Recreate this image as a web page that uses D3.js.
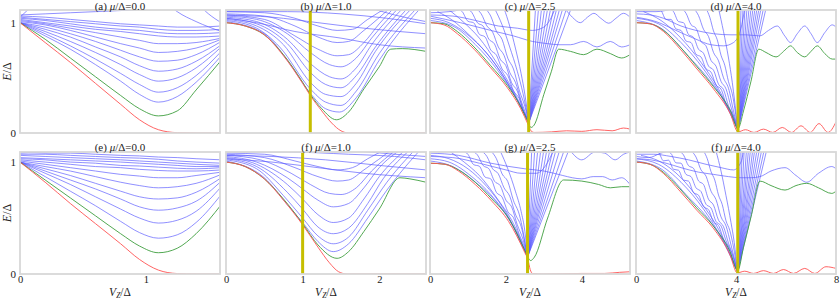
<!DOCTYPE html>
<html><head><meta charset="utf-8">
<script src="https://cdn.jsdelivr.net/npm/d3@7"></script>
<style>body{margin:0;background:#fff}svg{display:block}</style>
</head><body>
<svg id="chart" width="840" height="300"></svg>
<script>
// ---------------- DATA ----------------
const gridAE = [0,0.2,0.4,0.6,0.8,0.95,1.1,1.25,1.4,1.6];
// (a) mu=0
const redA   = [1.0,0.82,0.64,0.45,0.26,0.12,0.03,0.003,0,0];
const greenA = [1.0,0.85,0.68,0.51,0.34,0.22,0.155,0.2,0.39,0.66];
const blueA = [
 [1.0,0.88,0.76,0.62,0.47,0.35,0.28,0.33,0.46,0.70],
 [1.0,0.9,0.79,0.67,0.54,0.44,0.37,0.41,0.52,0.74],
 [1.0,0.92,0.83,0.73,0.62,0.53,0.47,0.5,0.59,0.78],
 [1.0,0.94,0.87,0.78,0.69,0.61,0.56,0.58,0.65,0.80],
 [1.0,0.96,0.9,0.83,0.75,0.69,0.65,0.66,0.71,0.83],
 [1.01,0.98,0.93,0.87,0.81,0.77,0.73,0.74,0.77,0.85],
 [1.02,0.99,0.95,0.91,0.87,0.84,0.81,0.81,0.82,0.86],
 [1.03,1.0,0.97,0.94,0.92,0.9,0.88,0.87,0.87,0.88],
 [1.04,1.02,0.99,0.96,0.94,0.93,0.91,0.9,0.9,0.91],
 [1.05,1.03,1.01,0.99,0.97,0.96,0.94,0.93,0.93,0.94],
 [1.06,1.05,1.03,1.01,0.99,0.98,0.97,0.96,0.96,0.97],
 [1.07,1.08,1.09,1.1,1.11,1.12,1.13,1.14,1.14,1.15],
 [1.05,1.25,1.4,1.5,1.5,1.5,1.5,1.5,1.5,1.5],
 [1.5,1.5,1.5,1.5,1.5,1.5,1.25,1.1,1.01,0.92],
 [1.5,1.5,1.5,1.5,1.5,1.5,1.5,1.5,1.2,1.0]
];
// (e) mu=0
const redE   = [1.0,0.82,0.63,0.45,0.27,0.13,0.035,0.004,0,0];
const greenE = [1.0,0.84,0.68,0.52,0.36,0.25,0.19,0.23,0.36,0.62];
const blueE = [
 [1.0,0.87,0.74,0.61,0.47,0.37,0.32,0.35,0.46,0.71],
 [1.0,0.9,0.8,0.69,0.58,0.5,0.455,0.48,0.56,0.78],
 [1.0,0.92,0.84,0.76,0.67,0.6,0.57,0.59,0.65,0.83],
 [1.0,0.94,0.88,0.81,0.74,0.69,0.67,0.68,0.73,0.86],
 [1.0,0.96,0.92,0.87,0.82,0.79,0.77,0.78,0.81,0.89],
 [1.01,0.98,0.95,0.92,0.89,0.875,0.86,0.86,0.88,0.91],
 [1.02,1.0,0.98,0.96,0.95,0.935,0.925,0.92,0.92,0.93],
 [1.03,1.02,1.0,0.99,0.97,0.965,0.955,0.945,0.94,0.95],
 [1.04,1.03,1.02,1.01,1.0,0.99,0.98,0.97,0.96,0.96],
 [1.06,1.05,1.04,1.03,1.02,1.01,1.0,0.99,0.98,0.97],
 [1.07,1.07,1.06,1.05,1.04,1.035,1.025,1.01,1.0,0.99],
 [1.09,1.08,1.08,1.07,1.06,1.055,1.045,1.04,1.03,1.02],
 [1.08,1.09,1.1,1.1,1.11,1.11,1.12,1.12,1.12,1.12]
];
// (b) mu=1
const yellowB = 1.1;
const redB = [[0,1.0],[0.25,0.97],[0.5,0.89],[0.75,0.7],[1.0,0.45],[1.1,0.34],[1.25,0.2],[1.38,0.09],[1.5,0.02],[1.6,0],[2.61,0]];
const greenB = [[0,1.0],[0.25,0.97],[0.5,0.89],[0.75,0.71],[1.0,0.46],[1.1,0.35],[1.25,0.22],[1.44,0.12],[1.6,0.19],[1.8,0.4],[2.0,0.6],[2.15,0.76],[2.3,0.765],[2.61,0.74]];
const blueB = [
 [[0,1.01],[0.5,0.9],[0.8,0.66],[1.1,0.36],[1.3,0.22],[1.48,0.19],[1.7,0.32],[2.0,0.66],[2.15,0.81],[2.55,1.14]],
 [[0,1.02],[0.4,0.95],[0.7,0.78],[1.1,0.4],[1.3,0.28],[1.5,0.25],[1.7,0.38],[2.0,0.72],[2.5,1.14]],
 [[0,1.03],[0.4,0.97],[0.75,0.8],[1.1,0.46],[1.3,0.35],[1.5,0.33],[1.7,0.45],[1.95,0.74],[2.44,1.14]],
 [[0,1.04],[0.4,0.99],[0.8,0.81],[1.1,0.55],[1.3,0.44],[1.5,0.41],[1.7,0.52],[1.95,0.78],[2.38,1.14]],
 [[0,1.05],[0.4,1.01],[0.8,0.85],[1.1,0.63],[1.35,0.51],[1.5,0.49],[1.7,0.59],[1.9,0.8],[2.32,1.14]],
 [[0,1.06],[0.4,1.03],[0.8,0.9],[1.1,0.73],[1.35,0.62],[1.5,0.6],[1.7,0.68],[1.9,0.86],[2.26,1.14]],
 [[0,1.07],[0.5,1.03],[0.9,0.88],[1.2,0.76],[1.45,0.7],[1.6,0.71],[1.8,0.82],[2.0,0.99],[2.2,1.14]],
 [[0,1.08],[0.5,1.06],[0.9,0.97],[1.2,0.87],[1.45,0.82],[1.6,0.83],[1.8,0.93],[2.15,1.14]],
 [[0,1.1],[0.5,1.09],[0.9,1.04],[1.2,0.97],[1.45,0.93],[1.65,0.94],[1.85,1.03],[2.1,1.14]],
 [[0,1.07],[0.6,1.05],[1.2,1.0],[1.8,0.95],[2.61,0.9]],
 [[0,1.04],[0.4,1.0],[0.9,0.92],[1.5,0.86],[2.0,0.8],[2.61,0.77]],
 [[0,1.1],[0.8,1.1],[1.5,1.08],[2.1,1.04],[2.61,0.99]],
 [[1.9,1.13],[2.2,1.07],[2.61,1.01]]
];
// (f) mu=1
const yellowF = 1.0;
const redF = [[0,1.0],[0.25,0.96],[0.5,0.85],[0.75,0.66],[1.0,0.44],[1.2,0.24],[1.35,0.1],[1.47,0.02],[1.58,0],[2.61,0]];
const greenF = [[0,1.0],[0.25,0.96],[0.5,0.85],[0.75,0.67],[1.0,0.45],[1.2,0.26],[1.45,0.14],[1.6,0.2],[1.8,0.38],[2.0,0.58],[2.27,0.86],[2.4,0.85],[2.61,0.82]];
const blueF = [
 [[0,1.01],[0.5,0.86],[0.8,0.62],[1.0,0.46],[1.2,0.29],[1.4,0.2],[1.6,0.27],[1.85,0.5],[2.1,0.75],[2.27,0.9],[2.55,1.12]],
 [[0,1.02],[0.4,0.94],[0.75,0.7],[1.0,0.5],[1.2,0.34],[1.4,0.27],[1.6,0.33],[1.85,0.57],[2.1,0.82],[2.48,1.12]],
 [[0,1.03],[0.4,0.96],[0.8,0.73],[1.0,0.58],[1.2,0.42],[1.4,0.36],[1.6,0.41],[1.85,0.63],[2.05,0.85],[2.42,1.12]],
 [[0,1.04],[0.4,0.98],[0.8,0.8],[1.0,0.67],[1.2,0.53],[1.4,0.46],[1.6,0.5],[1.8,0.67],[2.0,0.87],[2.36,1.12]],
 [[0,1.05],[0.4,1.0],[0.8,0.86],[1.0,0.76],[1.2,0.66],[1.4,0.6],[1.6,0.63],[1.8,0.77],[2.0,0.95],[2.3,1.12]],
 [[0,1.06],[0.45,1.02],[0.85,0.9],[1.1,0.8],[1.35,0.72],[1.5,0.71],[1.7,0.77],[1.9,0.92],[2.24,1.12]],
 [[0,1.07],[0.5,1.04],[0.9,0.95],[1.2,0.87],[1.45,0.83],[1.6,0.84],[1.8,0.93],[2.18,1.12]],
 [[0,1.08],[0.5,1.07],[0.9,1.01],[1.2,0.96],[1.45,0.93],[1.65,0.95],[1.85,1.03],[2.1,1.12]],
 [[0,1.03],[0.6,1.0],[1.2,0.95],[1.8,0.9],[2.61,0.86]],
 [[0,1.06],[0.6,1.05],[1.3,1.02],[2.0,0.97],[2.61,0.93]],
 [[0,1.09],[0.8,1.09],[1.6,1.07],[2.2,1.05],[2.61,1.02]],
 [[1.7,1.1],[2.2,1.07],[2.61,1.05]]
];
// (c) mu=2.5
const yellowC = 2.6;
const redC = [[0,1.0],[0.37,0.98],[0.72,0.9],[1.16,0.76],[1.6,0.59],[2.04,0.41],[2.39,0.22],[2.58,0.08],[2.66,0.02],[2.75,0.005],[3.2,0.01],[3.6,0.02],[4.0,0.015],[4.4,0.03],[4.8,0.02],[5.1,0.045],[5.27,0.035]];
const greenC = [[0,1.0],[0.37,0.99],[0.72,0.92],[1.16,0.78],[1.6,0.61],[2.04,0.43],[2.39,0.24],[2.58,0.1],[2.66,0.05],[2.74,0.07],[3.0,0.35],[3.2,0.56],[3.39,0.76],[3.7,0.74],[4.05,0.71],[4.4,0.76],[4.75,0.72],[5.05,0.68],[5.27,0.71]];
const blueC = [
 [[0,1.06],[0.8,1.0],[1.6,0.93],[2.2,0.88],[2.7,0.83],[3.1,0.81],[3.4,0.8],[3.7,0.8],[4.05,0.83],[4.4,0.78],[4.75,0.83],[5.05,0.78],[5.27,0.8]],
 [[0,1.07],[0.6,1.06],[1.2,1.02],[1.8,0.97],[2.3,0.95],[2.7,0.93],[3.0,0.96],[3.2,1.05],[3.3,1.13]],
 [[0,1.09],[0.5,1.1],[1.0,1.13]],
 [[3.55,1.13],[3.75,1.05],[3.96,1.0],[4.15,1.05],[4.32,1.085],[4.5,1.04],[4.71,0.995],[4.9,1.04],[5.1,1.085],[5.27,1.05]],
 [[0,1.02],[0.6,0.97],[1.2,0.8],[1.8,0.56],[2.3,0.3],[2.6,0.1]],
 [[0,1.04],[0.5,1.0],[1.1,0.86],[1.6,0.68],[2.1,0.42],[2.6,0.1]],
 [[0.2,1.1],[0.6,1.02],[1.0,0.9],[1.5,0.72],[2.0,0.48],[2.6,0.1]],
 [[0.45,1.13],[0.9,1.0],[1.3,0.86],[1.75,0.64],[2.2,0.38],[2.6,0.1]],
 [[0.7,1.13],[0.85,1.1],[1.0,1.013],[1.15,0.999],[1.3,0.895],[1.45,0.871],[1.6,0.753],[1.75,0.706],[1.9,0.58],[2.05,0.521],[2.2,0.383],[2.35,0.313],[2.5,0.165],[2.6,0.1]],
 [[0.95,1.13],[1.1,1.094],[1.25,0.999],[1.4,0.969],[1.55,0.851],[1.7,0.807],[1.85,0.669],[2.0,0.61],[2.15,0.455],[2.3,0.38],[2.45,0.215],[2.6,0.1]],
 [[1.2,1.13],[1.35,1.08],[1.5,0.97],[1.65,0.915],[1.8,0.78],[1.95,0.705],[2.1,0.55],[2.25,0.46],[2.4,0.295],[2.6,0.1]],
 [[1.45,1.13],[1.6,1.06],[1.75,0.922],[1.9,0.848],[2.05,0.678],[2.2,0.58],[2.35,0.39],[2.5,0.24],[2.6,0.1]],
 [[1.7,1.13],[1.9,0.98],[2.1,0.78],[2.3,0.56],[2.45,0.36],[2.6,0.1]],
 [[1.95,1.13],[2.1,0.97],[2.25,0.77],[2.4,0.54],[2.5,0.35],[2.6,0.1]]
];
const vertexC = [2.6,0.09];
const riseTopsC = [2.78,2.86,2.94,3.02,3.1,3.18,3.26,3.34,3.42,3.5,3.6,3.72];
// (d) mu=4
const yellowD = 4.08;
const redD = [[0,1.0],[0.56,0.99],[1.1,0.92],[1.77,0.76],[2.44,0.58],[3.1,0.4],[3.78,0.17],[4.08,0.01],[4.38,0.03],[4.72,0.005],[5.1,0.035],[5.47,0.005],[5.85,0.05],[6.22,0.005],[6.6,0.065],[6.97,0.005],[7.32,0.085],[7.68,0.005],[8.0,0.1]];
const greenD = [[0,1.0],[0.56,0.99],[1.1,0.93],[1.77,0.78],[2.44,0.6],[3.1,0.42],[3.78,0.2],[4.08,0.04],[4.3,0.2],[4.6,0.47],[4.91,0.76],[5.2,0.73],[5.6,0.69],[5.95,0.75],[6.18,0.79],[6.45,0.73],[6.75,0.69],[7.0,0.74],[7.25,0.79],[7.55,0.72],[7.85,0.67],[8.0,0.67]];
const blueD = [
 [[0,1.08],[0.6,1.07],[1.1,1.04],[1.8,0.97],[2.4,0.93],[3.1,0.9],[3.8,0.89],[4.4,0.89],[4.95,0.88],[5.3,0.93],[5.65,0.97],[5.95,0.88],[6.18,0.82],[6.45,0.9],[6.75,0.97],[7.0,0.9],[7.25,0.82],[7.55,0.91],[7.85,0.98],[8.0,0.96]],
 [[0,1.1],[0.8,1.1],[1.5,1.13]],
 [[0,1.05],[0.8,1.01],[1.6,0.93],[2.4,0.85],[3.0,0.8],[3.5,0.79],[3.9,0.82],[4.2,0.95],[4.35,1.13]],
 [[0,1.02],[1.0,0.95],[2.0,0.72],[3.0,0.46],[3.6,0.26],[4.07,0.03]],
 [[0,1.04],[0.9,0.99],[1.8,0.82],[2.7,0.58],[3.4,0.34],[4.07,0.03]],
 [[0.3,1.1],[1.0,1.02],[1.8,0.86],[2.6,0.64],[3.3,0.4],[4.07,0.03]],
 [[0.8,1.13],[1.0,1.11],[1.2,1.03],[1.4,1.03],[1.6,0.943],[1.8,0.93],[2.0,0.834],[2.2,0.82],[2.4,0.714],[2.6,0.689],[2.8,0.583],[3.0,0.552],[3.2,0.435],[3.4,0.398],[3.6,0.266],[3.8,0.19],[4.07,0.03]],
 [[1.3,1.13],[1.5,1.1],[1.7,1.01],[1.9,1.0],[2.1,0.893],[2.3,0.867],[2.5,0.76],[2.7,0.723],[2.9,0.607],[3.1,0.57],[3.3,0.442],[3.5,0.394],[3.7,0.246],[3.9,0.15],[4.07,0.03]],
 [[1.8,1.13],[2.0,1.086],[2.2,0.982],[2.4,0.95],[2.6,0.83],[2.8,0.79],[3.0,0.658],[3.2,0.606],[3.4,0.468],[3.6,0.4],[3.8,0.235],[4.07,0.03]],
 [[2.3,1.13],[2.5,1.065],[2.7,0.94],[2.9,0.875],[3.1,0.73],[3.3,0.655],[3.5,0.5],[3.7,0.405],[3.9,0.2],[4.07,0.03]],
 [[2.8,1.13],[2.95,1.05],[3.1,0.925],[3.25,0.845],[3.4,0.705],[3.55,0.615],[3.7,0.465],[3.85,0.355],[4.07,0.03]],
 [[3.3,1.13],[3.5,0.92],[3.7,0.68],[3.85,0.46],[3.95,0.28],[4.07,0.03]]
];
const vertexD = [4.08,0.03];
const riseTopsD = [4.2,4.28,4.36,4.44,4.52,4.6,4.68,4.76,4.84,4.92,5.0,5.1,5.2];
// (g) mu=2.5
const yellowG = 2.57;
const redG = [[0,0.99],[0.4,0.98],[0.75,0.92],[1.19,0.8],[1.63,0.65],[2.07,0.47],[2.5,0.19],[2.58,0.13],[2.64,0.04],[2.7,0.005],[3.0,0],[4.0,0.005],[4.6,0.005],[5.0,0.015],[5.27,0.02]];
const greenG = [[0,0.99],[0.4,0.98],[0.75,0.93],[1.19,0.82],[1.63,0.67],[2.07,0.5],[2.5,0.21],[2.58,0.15],[2.65,0.12],[2.75,0.15],[3.1,0.5],[3.52,0.84],[4.0,0.83],[4.44,0.8],[4.75,0.77],[5.05,0.78],[5.27,0.78]];
const blueG = [
 [[0,1.08],[0.75,1.06],[1.6,0.99],[2.5,0.94],[3.0,0.92],[3.5,0.88],[3.75,0.86],[4.0,0.85],[4.3,0.87],[4.55,0.87],[4.8,0.84],[5.05,0.86],[5.27,0.8]],
 [[0,1.05],[0.6,1.04],[1.3,0.99],[2.0,0.93],[2.4,0.9],[2.8,0.9],[3.05,0.97],[3.25,1.1]],
 [[3.7,1.1],[4.0,1.02],[4.35,1.09],[4.6,1.08],[4.88,1.02],[5.1,1.07],[5.27,1.09]],
 [[0,1.01],[0.6,0.96],[1.2,0.82],[1.8,0.62],[2.2,0.42],[2.57,0.15]],
 [[0,1.03],[0.5,1.0],[1.1,0.87],[1.6,0.71],[2.1,0.48],[2.57,0.15]],
 [[0,1.06],[0.5,1.03],[1.0,0.94],[1.5,0.78],[2.0,0.55],[2.57,0.15]],
 [[0.5,1.1],[0.9,1.0],[1.3,0.88],[1.8,0.66],[2.2,0.45],[2.57,0.15]],
 [[0.85,1.1],[1.0,1.069],[1.15,0.977],[1.3,0.963],[1.45,0.866],[1.6,0.85],[1.75,0.729],[1.9,0.687],[2.05,0.557],[2.2,0.503],[2.35,0.355],[2.5,0.23],[2.57,0.15]],
 [[1.1,1.1],[1.25,1.064],[1.4,0.969],[1.55,0.941],[1.7,0.829],[1.85,0.79],[2.0,0.66],[2.15,0.6],[2.3,0.44],[2.45,0.31],[2.57,0.15]],
 [[1.35,1.1],[1.5,1.05],[1.65,0.94],[1.8,0.895],[1.95,0.77],[2.1,0.696],[2.25,0.535],[2.4,0.425],[2.57,0.15]],
 [[1.6,1.1],[1.75,1.03],[1.9,0.894],[2.05,0.826],[2.2,0.655],[2.35,0.535],[2.57,0.15]],
 [[1.85,1.1],[2.05,0.94],[2.25,0.74],[2.4,0.56],[2.5,0.38],[2.57,0.15]]
];
const vertexG = [2.57,0.15];
const riseTopsG = [2.68,2.76,2.84,2.92,3.0,3.08,3.16,3.24,3.32,3.42,3.54,3.66];
// (h) mu=4
const yellowH = 4.07;
const redH = [[0,1.0],[0.56,0.98],[1.09,0.9],[1.76,0.74],[2.43,0.57],[3.09,0.41],[3.76,0.17],[4.05,0.01],[4.35,0.025],[4.7,0.005],[5.1,0.03],[5.5,0.005],[5.9,0.04],[6.3,0.005],[6.75,0.05],[7.15,0.005],[7.6,0.065],[8.0,0.05]];
const greenH = [[0,1.0],[0.56,0.98],[1.09,0.91],[1.76,0.76],[2.43,0.59],[3.09,0.43],[3.76,0.2],[4.07,0.03],[4.3,0.24],[4.6,0.51],[4.96,0.83],[5.4,0.79],[5.96,0.75],[6.4,0.79],[6.83,0.81],[7.3,0.77],[7.83,0.72],[8.0,0.74]];
const blueH = [
 [[0,1.03],[0.6,1.02],[1.2,0.99],[1.8,0.95],[2.5,0.91],[3.1,0.89],[3.7,0.87],[4.2,0.86],[4.6,0.86],[4.96,0.87],[5.4,0.92],[5.96,0.95],[6.4,0.88],[6.83,0.82],[7.3,0.9],[7.83,0.96],[8.0,0.94]],
 [[0,1.07],[0.7,1.07],[1.4,1.05],[2.1,1.02],[2.8,0.98],[3.4,0.95],[3.9,0.93],[4.2,1.0],[4.3,1.1]],
 [[0,1.05],[0.5,1.04],[1.0,1.08],[1.3,1.1]],
 [[0,1.01],[1.0,0.94],[2.0,0.71],[3.0,0.46],[3.6,0.25],[4.06,0.02]],
 [[0,1.03],[0.9,0.98],[1.8,0.82],[2.7,0.58],[3.4,0.33],[4.06,0.02]],
 [[0.2,1.06],[1.0,1.0],[1.8,0.86],[2.6,0.64],[3.3,0.4],[4.06,0.02]],
 [[0.7,1.1],[0.9,1.086],[1.1,1.011],[1.3,1.017],[1.5,0.936],[1.7,0.927],[1.9,0.839],[2.1,0.83],[2.3,0.727],[2.5,0.704],[2.7,0.601],[2.9,0.575],[3.1,0.464],[3.3,0.433],[3.5,0.312],[3.7,0.24],[3.9,0.1],[4.06,0.02]],
 [[1.2,1.1],[1.4,1.077],[1.6,0.993],[1.8,0.99],[2.0,0.89],[2.2,0.87],[2.4,0.77],[2.6,0.737],[2.8,0.623],[3.0,0.59],[3.2,0.47],[3.4,0.43],[3.6,0.298],[3.8,0.2],[4.06,0.02]],
 [[1.7,1.1],[1.9,1.064],[2.1,0.968],[2.3,0.944],[2.5,0.832],[2.7,0.8],[2.9,0.668],[3.1,0.616],[3.3,0.481],[3.5,0.423],[3.7,0.275],[3.9,0.15],[4.06,0.02]],
 [[2.2,1.1],[2.4,1.045],[2.6,0.93],[2.8,0.875],[3.0,0.74],[3.2,0.665],[3.4,0.51],[3.6,0.43],[3.8,0.26],[4.06,0.02]],
 [[2.7,1.1],[2.85,1.03],[3.0,0.915],[3.15,0.84],[3.3,0.705],[3.45,0.62],[3.6,0.475],[3.75,0.39],[3.9,0.24],[4.06,0.02]],
 [[3.2,1.1],[3.4,0.92],[3.6,0.7],[3.8,0.46],[3.93,0.28],[4.06,0.02]]
];
const vertexH = [4.07,0.02];
const riseTopsH = [4.17,4.25,4.33,4.42,4.5,4.58,4.67,4.75,4.84,4.93,5.03,5.13,5.23];

const xTicksRow2 = [[0,1],[0,1,2],[0,2,4],[0,4,8]];
const yTicks = [0,1];

// ---------------- BUILD ----------------
const zip = (xs, ys) => xs.map((x,i)=>[x,ys[i]]);
const fan = (v, tops, ytop) => tops.map(t => [v, [t, ytop]]);

const panels = [
 {r:0,c:0,tag:"(a)",mu:"0.0",xmax:1.59,blue:blueA.map(ys=>zip(gridAE,ys)),green:zip(gridAE,greenA),red:zip(gridAE,redA),yellow:null},
 {r:0,c:1,tag:"(b)",mu:"1.0",xmax:2.61,blue:blueB,green:greenB,red:redB,yellow:yellowB},
 {r:0,c:2,tag:"(c)",mu:"2.5",xmax:5.27,blue:blueC.concat(fan(vertexC,riseTopsC,1.13)),green:greenC,red:redC,yellow:yellowC},
 {r:0,c:3,tag:"(d)",mu:"4.0",xmax:8.0,blue:blueD.concat(fan(vertexD,riseTopsD,1.13)),green:greenD,red:redD,yellow:yellowD},
 {r:1,c:0,tag:"(e)",mu:"0.0",xmax:1.59,blue:blueE.map(ys=>zip(gridAE,ys)),green:zip(gridAE,greenE),red:zip(gridAE,redE),yellow:null},
 {r:1,c:1,tag:"(f)",mu:"1.0",xmax:2.61,blue:blueF,green:greenF,red:redF,yellow:yellowF},
 {r:1,c:2,tag:"(g)",mu:"2.5",xmax:5.27,blue:blueG.concat(fan(vertexG,riseTopsG,1.11)),green:greenG,red:redG,yellow:yellowG},
 {r:1,c:3,tag:"(f)",mu:"4.0",xmax:8.0,blue:blueH.concat(fan(vertexH,riseTopsH,1.11)),green:greenH,red:redH,yellow:yellowH}
];

// ---------------- LAYOUT / STYLE ----------------
const svg = d3.select("#chart");
const FONT = "Liberation Serif, DejaVu Serif, serif";
const colW = 200;
const colLeft = [20, 226, 430, 636];
const rowBox = [{top:10,bottom:133,ymax:1.115,titleY:9.5},{top:152,bottom:274,ymax:1.09,titleY:150.5}];
const COL = {blue:"#5b5bff", green:"#3e9e3e", red:"#ff5252", yellow:"#c6be00", frame:"#d8d8d8"};

panels.forEach((p,i) => {
  const rb = rowBox[p.r];
  const x0 = colLeft[p.c];
  const x = d3.scaleLinear().domain([0,p.xmax]).range([x0, x0+colW]);
  const y = d3.scaleLinear().domain([0,rb.ymax]).range([rb.bottom, rb.top]);
  const g = svg.append("g");
  const cid = "clip"+i;
  svg.append("clipPath").attr("id",cid).append("rect")
    .attr("x",x0).attr("y",rb.top).attr("width",colW).attr("height",rb.bottom-rb.top);
  const plot = g.append("g").attr("clip-path",`url(#${cid})`);
  const line = d3.line().x(d=>x(d[0])).y(d=>y(d[1])).curve(d3.curveMonotoneX);

  plot.selectAll("path.b").data(p.blue).join("path").attr("class","b")
    .attr("d",line).attr("fill","none").attr("stroke",COL.blue).attr("stroke-width",0.8).attr("stroke-opacity",0.85);
  plot.append("path").attr("d",line(p.green)).attr("fill","none").attr("stroke",COL.green).attr("stroke-width",0.9);
  plot.append("path").attr("d",line(p.red)).attr("fill","none").attr("stroke",COL.red).attr("stroke-width",0.9);
  if (p.yellow != null) {
    plot.append("line").attr("x1",x(p.yellow)).attr("x2",x(p.yellow))
      .attr("y1",rb.top).attr("y2",rb.bottom).attr("stroke",COL.yellow).attr("stroke-width",3);
  }
  g.append("rect").attr("x",x0).attr("y",rb.top).attr("width",colW).attr("height",rb.bottom-rb.top)
    .attr("fill","none").attr("stroke",COL.frame).attr("stroke-width",1.8);

  const t = g.append("text").attr("x",x0+colW/2).attr("y",rb.titleY).attr("text-anchor","middle")
    .attr("font-family",FONT).attr("font-size",11).attr("fill","#222");
  t.append("tspan").text(p.tag+" ");
  t.append("tspan").attr("font-style","italic").text("μ");
  t.append("tspan").text("/Δ="+p.mu);

  if (p.c === 0) {
    const ay = g.append("g").attr("transform",`translate(${x0},0)`)
      .call(d3.axisLeft(y).tickValues(yTicks).tickSize(0).tickPadding(4).tickFormat(d3.format("d")));
    ay.select(".domain").remove();
    ay.selectAll("text").attr("font-family",FONT).attr("font-size",11).attr("fill","#222");
    const ly = g.append("text").attr("transform",`translate(11,${(rb.top+rb.bottom)/2}) rotate(-90)`)
      .attr("text-anchor","middle").attr("font-family",FONT).attr("font-size",12).attr("fill","#222");
    ly.append("tspan").attr("font-style","italic").text("E");
    ly.append("tspan").text("/Δ");
  }
  if (p.r === 1) {
    const ax = g.append("g").attr("transform",`translate(0,${rb.bottom})`)
      .call(d3.axisBottom(x).tickValues(xTicksRow2[p.c]).tickSize(0).tickPadding(2).tickFormat(d3.format("d")));
    ax.select(".domain").remove();
    ax.selectAll("text").attr("font-family",FONT).attr("font-size",10.5).attr("fill","#222");
    const lx = g.append("text").attr("x",x0+colW/2).attr("y",295.5).attr("text-anchor","middle")
      .attr("font-family",FONT).attr("font-size",11.5).attr("fill","#222");
    lx.append("tspan").attr("font-style","italic").text("V");
    lx.append("tspan").attr("font-style","italic").attr("font-size",7.5).attr("dy",2).text("Z");
    lx.append("tspan").attr("dy",-2).text("/Δ");
  }
});
</script>
</body></html>
